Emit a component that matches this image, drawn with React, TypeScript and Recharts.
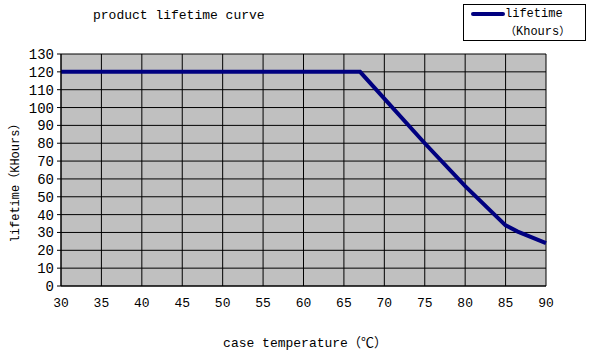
import React from "react";
import { CartesianGrid, Customized, Line, LineChart, XAxis, YAxis } from "recharts";

// temperature (°C) vs lifetime (Khours)
const temps = [30, 67, 70, 75, 80, 85, 86.5, 90];
const lifetime = [120, 120, 105, 80, 56, 34, 30.5, 24];

const xTicks = [30, 35, 40, 45, 50, 55, 60, 65, 70, 75, 80, 85, 90];
const yTicks = [0, 10, 20, 30, 40, 50, 60, 70, 80, 90, 100, 110, 120, 130];

const data = temps.map((t, i) => ({ temp: t, life: lifetime[i] }));

const FONT = "'Liberation Mono', 'Noto Sans CJK SC', monospace";
const CJK = "'Noto Sans CJK SC'";

const Overlay = () => (
  <g fontFamily={FONT} fill="#000">
    <text x={93} y={19} fontSize={13}>product lifetime curve</text>
    <rect x={463.5} y={4.5} width={122} height={36} fill="#fff" stroke="#000" />
    <line x1={473} y1={14} x2={503} y2={14} stroke="#000080" strokeWidth={4} strokeLinecap="round" />
    <text x={505} y={17} fontSize={12}>lifetime</text>
    <text x={505} y={35} fontSize={12}>
      <tspan fontFamily={CJK} fontSize={11}>（</tspan>Khours<tspan fontFamily={CJK} fontSize={11}>）</tspan>
    </text>
    <text
      x={19}
      y={180}
      fontSize={12}
      textAnchor="middle"
      transform="rotate(-90, 19, 180)"
    >
      lifetime<tspan fontFamily={CJK}>（</tspan>KHours<tspan fontFamily={CJK}>）</tspan>
    </text>
    <text x={305} y={347} fontSize={13} textAnchor="middle">
      case temperature<tspan fontFamily={CJK}>（℃）</tspan>
    </text>
  </g>
);

export default function App() {
  return (
    <div style={{ position: "absolute", left: 0, top: 0, background: "#fff" }}>
      <LineChart
        width={589}
        height={352}
        data={data}
        margin={{ top: 54, right: 43, left: 0, bottom: 0 }}
      >
        <CartesianGrid stroke="#000" fill="#c0c0c0" fillOpacity={1} />
        <XAxis
          dataKey="temp"
          type="number"
          domain={[30, 90]}
          ticks={xTicks}
          interval={0}
          height={66}
          stroke="#000"
          tickSize={0}
          tickMargin={12}
          tick={{ fill: "#000", fontSize: 13, fontFamily: FONT }}
        />
        <YAxis
          type="number"
          domain={[0, 130]}
          ticks={yTicks}
          interval={0}
          width={61}
          stroke="#000"
          tickSize={4}
          tickMargin={3}
          tick={{ fill: "#000", fontSize: 14, fontFamily: FONT }}
        />
        <Line
          type="linear"
          dataKey="life"
          stroke="#000080"
          strokeWidth={4}
          dot={false}
          isAnimationActive={false}
        />
        <Customized component={Overlay} />
      </LineChart>
    </div>
  );
}
